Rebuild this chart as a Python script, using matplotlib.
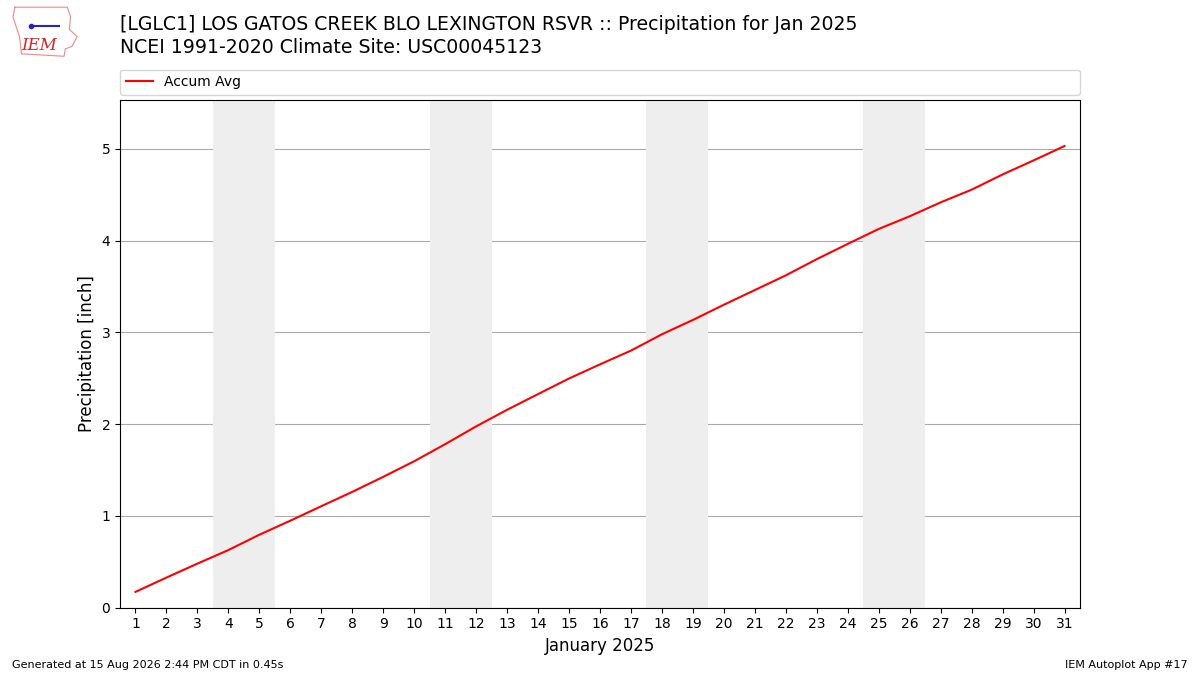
import matplotlib
matplotlib.use("Agg")
import matplotlib.pyplot as plt
import numpy as np

days = list(range(1, 32))
accum_avg = [0.17, 0.326, 0.478, 0.626, 0.793, 0.946, 1.104, 1.26, 1.424, 1.594,
             1.78, 1.974, 2.155, 2.326, 2.496, 2.65, 2.80, 2.978, 3.134, 3.30,
             3.46, 3.62, 3.797, 3.963, 4.126, 4.264, 4.416, 4.554, 4.72, 4.873, 5.03]
weekends = [(4, 5), (11, 12), (18, 19), (25, 26)]

fig = plt.figure(figsize=(12, 6.75), dpi=100)
ax = fig.add_axes([0.1, 0.1, 0.8, 0.752])

for a, b in weekends:
    ax.axvspan(a - 0.5, b + 0.5, color="#eeeeee", zorder=1, lw=0)

ax.plot(days, accum_avg, color="r", lw=1.5, label="Accum Avg", zorder=3)
ax.set_xlim(0.5, 31.5)
ax.set_ylim(0, max(accum_avg) * 1.1)
ax.set_xticks(days)
ax.grid(axis="y", color="#aaaaaa", lw=0.8, zorder=2)
ax.set_axisbelow(True)
ax.set_ylabel("Precipitation [inch]", fontsize=12)
ax.set_xlabel("January 2025", fontsize=12)
ax.legend(loc="lower left", bbox_to_anchor=(0, 1.01, 1, 0.05), mode="expand",
          ncol=1, fontsize=10, borderaxespad=0)

fig.text(0.1, 0.978, "[LGLC1] LOS GATOS CREEK BLO LEXINGTON RSVR :: Precipitation for Jan 2025",
         fontsize=13.6, va="top")
fig.text(0.1, 0.944, "NCEI 1991-2020 Climate Site: USC00045123", fontsize=13.6, va="top")

# rough logo stand-in: state outline + letters
lax = fig.add_axes([0.007, 0.913, 0.06, 0.08])
outline_x = [0.05, 0.85, 0.9, 0.88, 1.0, 0.92, 0.82, 0.8, 0.15, 0.12, 0.02, 0.05]
outline_y = [1.0, 1.0, 0.8, 0.55, 0.4, 0.2, 0.15, 0.0, 0.05, 0.4, 0.8, 1.0]
lax.plot(outline_x, outline_y, color="#e88", lw=0.8)
lax.plot([0.3, 0.72], [0.62, 0.62], color="#22c", lw=1.5)
lax.plot([0.3], [0.62], "o", color="#22c", ms=3)
lax.text(0.42, 0.22, "IEM", color="#d22", fontsize=12, family="DejaVu Serif",
         style="italic", ha="center", va="center")
lax.set_xlim(-0.05, 1.05)
lax.set_ylim(-0.05, 1.05)
lax.axis("off")

fig.text(0.01, 0.01, "Generated at 15 Aug 2026 2:44 PM CDT in 0.45s", fontsize=8)
fig.text(0.99, 0.01, "IEM Autoplot App #17", fontsize=8, ha="right")

fig.savefig("out.png", dpi=100)
